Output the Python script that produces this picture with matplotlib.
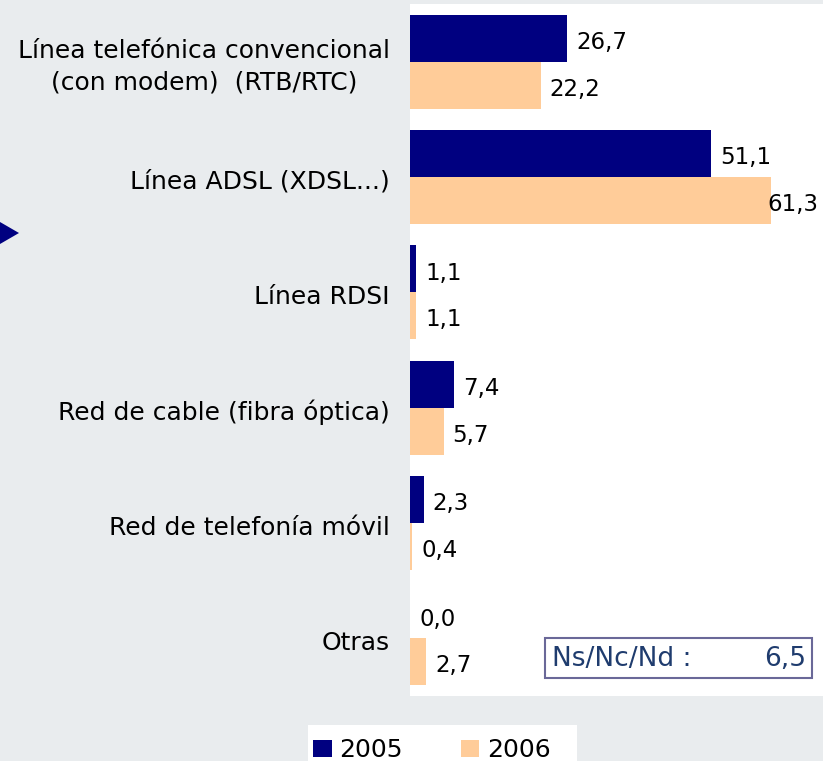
import matplotlib
matplotlib.use("Agg")
import matplotlib.pyplot as plt
from matplotlib.patches import Rectangle, Polygon

categories = ["Línea telefónica convencional\n(con modem)  (RTB/RTC)",
              "Línea ADSL (XDSL...)",
              "Línea RDSI",
              "Red de cable (fibra óptica)",
              "Red de telefonía móvil",
              "Otras"]
v2005 = [26.7, 51.1, 1.1, 7.4, 2.3, 0.0]
v2006 = [22.2, 61.3, 1.1, 5.7, 0.4, 2.7]
series_names = ["2005", "2006"]
note_label = "Ns/Nc/Nd :"
note_value = "6,5"

C05 = "#000080"
C06 = "#ffcc99"
BG = "#e9ecee"

W, H = 823, 761
fig = plt.figure(figsize=(W / 100, H / 100), dpi=100, facecolor=BG)
ax = fig.add_axes([410 / W, 1 - 696 / H, (823 - 410) / W, (696 - 4) / H])
ax.set_facecolor("white")
for s in ax.spines.values():
    s.set_visible(False)
ax.set_xticks([])
ax.set_yticks([])

n = len(categories)
bw = 0.407
xmax = 70.1
ax.set_xlim(0, xmax)
ax.set_ylim(n - 0.5, -0.5)
ys = list(range(n))
ax.barh([y - bw / 2 for y in ys], v2005, height=bw, color=C05)
ax.barh([y + bw / 2 for y in ys], v2006, height=bw, color=C06)

fs = 16.5


def value_label(v, y):
    txt = f"{v:.1f}".replace(".", ",")
    if v / xmax > 0.8:
        ax.annotate(txt, (1.0, y), xycoords=("axes fraction", "data"), xytext=(-3, -3),
                    textcoords="offset points", ha="right", va="center", fontsize=fs)
    else:
        ax.annotate(txt, (v, y), xytext=(6.5, -3), textcoords="offset points",
                    ha="left", va="center", fontsize=fs)


for y, a, b in zip(ys, v2005, v2006):
    value_label(a, y - bw / 2)
    value_label(b, y + bw / 2)
    ax.annotate(categories[y], (0, y), xytext=(-14.5, -3.5), textcoords="offset points",
                ha="right", va="center", multialignment="center", fontsize=18,
                linespacing=1.4, annotation_clip=False)

# note box
fig.text(552 / W, 1 - 659 / H, note_label, ha="left", va="center", fontsize=19, color="#1f3c6e")
fig.text(806 / W, 1 - 659 / H, note_value, ha="right", va="center", fontsize=19, color="#1f3c6e")
fig.patches.append(Rectangle((545 / W, 1 - 678 / H), (812 - 545) / W, 40 / H,
                             transform=fig.transFigure, facecolor="none",
                             edgecolor="#6a6898", linewidth=1.5))

# triangle marker
fig.patches.append(Polygon([(0, 1 - 222 / H), (19 / W, 1 - 233 / H), (0, 1 - 244 / H)],
                           closed=True, transform=fig.transFigure, facecolor=C05,
                           edgecolor="none"))

# legend
fig.patches.append(Rectangle((308 / W, 0), (577 - 308) / W, 36 / H,
                             transform=fig.transFigure, facecolor="white", edgecolor="none"))
fig.patches.append(Rectangle((313 / W, 1 - 757 / H), 19 / W, 17 / H,
                             transform=fig.transFigure, facecolor=C05, edgecolor="none"))
fig.text(339 / W, 1 - 750 / H, series_names[0], ha="left", va="center", fontsize=18)
fig.patches.append(Rectangle((461 / W, 1 - 757 / H), 18 / W, 17 / H,
                             transform=fig.transFigure, facecolor=C06, edgecolor="none"))
fig.text(487 / W, 1 - 750 / H, series_names[1], ha="left", va="center", fontsize=18)

fig.savefig("out.png", dpi=100, facecolor=BG)
